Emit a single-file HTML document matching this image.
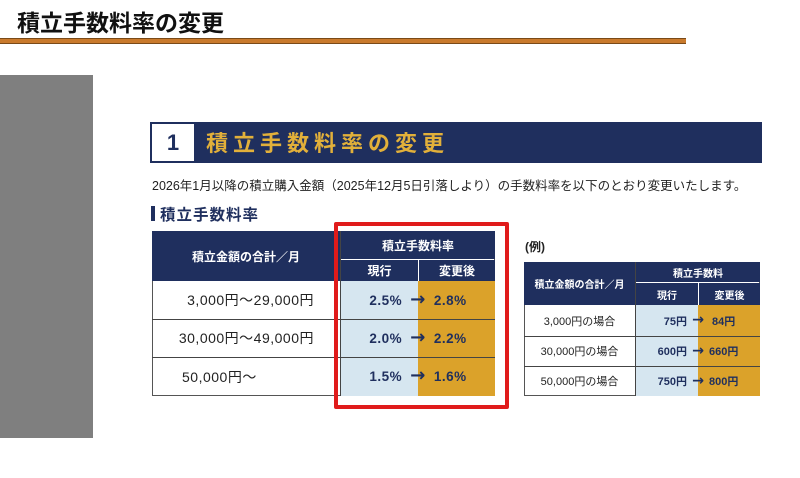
<!DOCTYPE html>
<html><head><meta charset="utf-8"><style>
*{margin:0;padding:0;box-sizing:border-box}
body{width:800px;height:478px;background:#fff;position:relative;overflow:hidden;font-family:"Liberation Sans","Noto Sans CJK JP",sans-serif}
.a{position:absolute}
.c{position:absolute;display:flex;align-items:center;justify-content:center;font-weight:bold}
.n{font-weight:normal}
.nv{background:#1f2f5e;color:#fff}
.lb{background:#d6e6f0}
.og{background:#dba22a}
.ar{font-family:"DejaVu Sans",sans-serif;font-weight:bold;font-size:1.35em;line-height:1;margin:0 8px;color:#1f2f5e}
.ar2{font-family:"DejaVu Sans",sans-serif;font-weight:bold;font-size:1.3em;line-height:1;margin:0 5px;color:#1f2f5e}
</style></head><body>
<div class="a" style="left:17px;top:4px;font-size:23px;font-weight:bold;color:#111">積立手数料率の変更</div>
<div class="a" style="left:0;top:38px;width:686px;height:6px;background:#c97a2c;border-top:1px solid #7a4a18;border-bottom:1px solid #7a4a18"></div>
<div class="a" style="left:0;top:75px;width:93px;height:363px;background:#7f7f7f"></div>

<div class="a" style="left:150px;top:122px;width:612px;height:41px;background:#1f2f5e"></div>
<div class="c" style="left:152px;top:124px;width:42px;height:37px;background:#fff;color:#1f2f5e;font-size:22px">1</div>
<div class="a" style="left:206px;top:126px;font-size:22px;font-weight:bold;color:#e2b03a;letter-spacing:5px">積立手数料率の変更</div>
<div class="a" style="left:152px;top:175px;font-size:12.5px;color:#222">2026年1月以降の積立購入金額（2025年12月5日引落しより）の手数料率を以下のとおり変更いたします。</div>
<div class="a" style="left:151px;top:206px;width:4px;height:15px;background:#1f2f5e"></div>
<div class="a" style="left:160px;top:203px;font-size:15.5px;font-weight:bold;color:#1f2f5e;letter-spacing:1px">積立手数料率</div>

<div class="a" style="left:152px;top:231px;width:343px;height:165px;border:1px solid #555"></div>
<div class="c nv" style="left:152px;top:231px;width:188px;height:50px;font-size:12px">積立金額の合計／月</div>
<div class="c nv" style="left:341px;top:231px;width:154px;height:28px;font-size:12px">積立手数料率</div>
<div class="c nv" style="left:341px;top:260px;width:77px;height:21px;font-size:12px">現行</div>
<div class="c nv" style="left:419px;top:260px;width:76px;height:21px;font-size:12px">変更後</div>
<div class="c n" style="left:152px;top:281px;width:188px;height:38px;font-size:14px;color:#222;justify-content:flex-end;padding-right:26px;letter-spacing:0.5px">3,000円～29,000円</div>
<div class="c n" style="left:152px;top:319px;width:188px;height:38px;font-size:14px;color:#222;justify-content:flex-end;padding-right:26px;letter-spacing:0.5px">30,000円～49,000円</div>
<div class="c n" style="left:152px;top:357px;width:188px;height:39px;font-size:14px;color:#222;justify-content:flex-start;padding-left:30px;letter-spacing:0.5px">50,000円～</div>
<div class="a lb" style="left:341px;top:281px;width:77px;height:115px"></div>
<div class="a og" style="left:418px;top:281px;width:77px;height:115px"></div>
<div class="a" style="left:152px;top:319px;width:343px;height:1px;background:#444"></div>
<div class="a" style="left:152px;top:357px;width:343px;height:1px;background:#444"></div>
<div class="a" style="left:340px;top:231px;width:1px;height:165px;background:#444"></div>
<div class="c" style="left:341px;top:281px;width:154px;height:38px;font-size:13.5px;color:#1f2f5e;letter-spacing:0.5px">2.5%<span class="ar">→</span>2.8%</div>
<div class="c" style="left:341px;top:319px;width:154px;height:38px;font-size:13.5px;color:#1f2f5e;letter-spacing:0.5px">2.0%<span class="ar">→</span>2.2%</div>
<div class="c" style="left:341px;top:357px;width:154px;height:39px;font-size:13.5px;color:#1f2f5e;letter-spacing:0.5px">1.5%<span class="ar">→</span>1.6%</div>
<div class="a" style="left:334px;top:222px;width:175px;height:187px;border:4px solid #e01b1b;border-radius:2px"></div>

<div class="a" style="left:525px;top:238px;font-size:12px;font-weight:bold;color:#222">(例)</div>
<div class="a" style="left:524px;top:262px;width:236px;height:134px;border:1px solid #555"></div>
<div class="c nv" style="left:524px;top:262px;width:111px;height:43px;font-size:10px">積立金額の合計／月</div>
<div class="c nv" style="left:636px;top:262px;width:124px;height:20px;font-size:10px">積立手数料</div>
<div class="c nv" style="left:636px;top:283px;width:62px;height:22px;font-size:10px">現行</div>
<div class="c nv" style="left:699px;top:283px;width:61px;height:22px;font-size:10px">変更後</div>
<div class="a lb" style="left:636px;top:305px;width:62px;height:91px"></div>
<div class="a og" style="left:698px;top:305px;width:62px;height:91px"></div>
<div class="a" style="left:524px;top:336px;width:236px;height:1px;background:#444"></div>
<div class="a" style="left:524px;top:366px;width:236px;height:1px;background:#444"></div>
<div class="a" style="left:635px;top:262px;width:1px;height:134px;background:#444"></div>
<div class="c n" style="left:524px;top:305px;width:111px;height:31px;font-size:11px;color:#222">3,000円の場合</div>
<div class="c n" style="left:524px;top:336px;width:111px;height:30px;font-size:11px;color:#222">30,000円の場合</div>
<div class="c n" style="left:524px;top:366px;width:111px;height:30px;font-size:11px;color:#222">50,000円の場合</div>
<div class="c" style="left:636px;top:305px;width:124px;height:31px;font-size:11px;color:#1f2f5e">&nbsp;75円<span class="ar2">→</span>&nbsp;84円</div>
<div class="c" style="left:636px;top:336px;width:124px;height:30px;font-size:11px;color:#1f2f5e">600円<span class="ar2">→</span>660円</div>
<div class="c" style="left:636px;top:366px;width:124px;height:30px;font-size:11px;color:#1f2f5e">750円<span class="ar2">→</span>800円</div>
</body></html>
